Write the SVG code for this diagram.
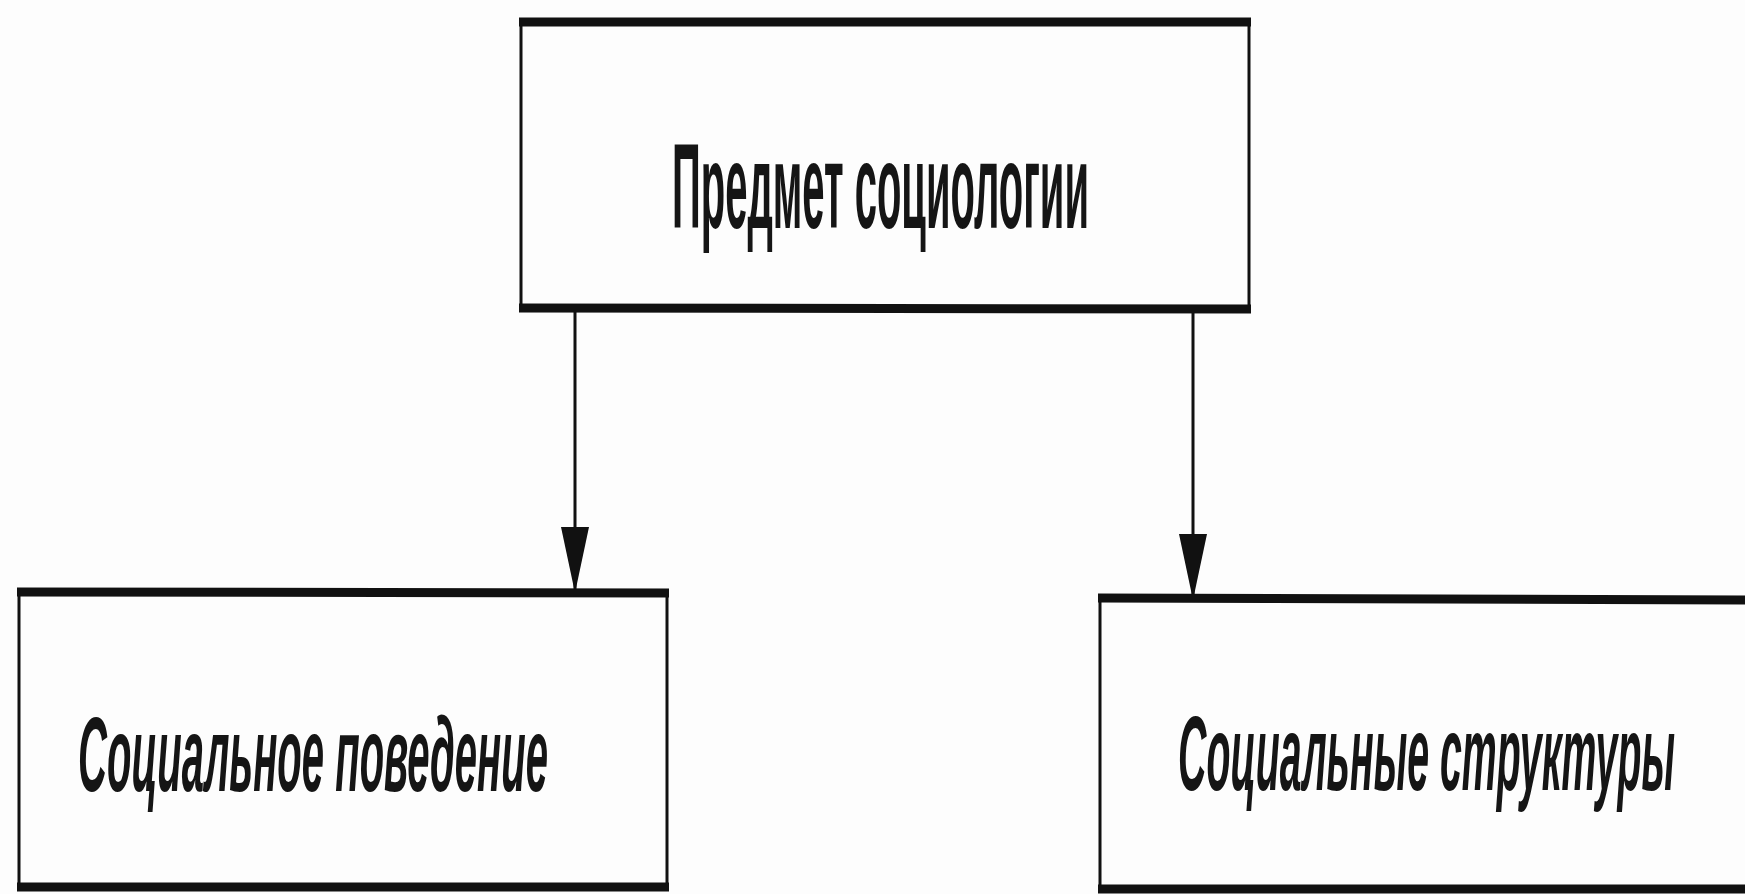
<svg xmlns="http://www.w3.org/2000/svg" width="1745" height="894" viewBox="0 0 1745 894">
  <style>
    .box { fill: #fdfdfd; stroke: #111; stroke-width: 3; }
    .edge { stroke: #111; stroke-width: 9; stroke-linecap: butt; }
    .conn { stroke: #111; stroke-width: 3; fill: none; }
    .title { font-family: "Liberation Sans", Arial, sans-serif; font-weight: 700; fill: #151515; }
    .ital { font-family: "Liberation Sans", Arial, sans-serif; font-weight: 700; font-style: italic; fill: #151515; }
  </style>
  <defs>
    <marker id="arrow" markerUnits="userSpaceOnUse" markerWidth="66" markerHeight="28" viewBox="0 0 66 28" refX="66" refY="14" orient="auto">
      <path d="M0,0 L66,14 L0,28 Z" fill="#111"/>
    </marker>
  </defs>
  <rect width="1745" height="894" fill="#fdfdfd"/>

  <g id="connectors">
    <line class="conn" x1="575" y1="310" x2="575" y2="593" marker-end="url(#arrow)"/>
    <line class="conn" x1="1193" y1="312" x2="1193" y2="600" marker-end="url(#arrow)"/>
  </g>

  <g id="node-top">
    <rect class="box" x="521" y="22" width="728" height="286"/>
    <line class="edge" x1="519" y1="22" x2="1251" y2="22"/>
    <line class="edge" x1="519" y1="308" x2="1251" y2="309"/>
    <text class="title" transform="translate(672,228) scale(1,3)" x="0" y="0" font-size="40" textLength="417" lengthAdjust="spacingAndGlyphs">Предмет социологии</text>
  </g>

  <g id="node-left">
    <rect class="box" x="19" y="592" width="648" height="295"/>
    <line class="edge" x1="17" y1="592" x2="669" y2="593"/>
    <line class="edge" x1="17" y1="887" x2="669" y2="887"/>
    <text class="ital" transform="translate(78,791) scale(1,2.65)" x="0" y="0" font-size="40" textLength="470" lengthAdjust="spacingAndGlyphs">Социальное поведение</text>
  </g>

  <g id="node-right">
    <rect class="box" x="1100" y="598" width="660" height="291"/>
    <line class="edge" x1="1098" y1="598" x2="1745" y2="600"/>
    <line class="edge" x1="1098" y1="889" x2="1745" y2="889"/>
    <text class="ital" transform="translate(1178,790) scale(1,2.65)" x="0" y="0" font-size="40" textLength="497" lengthAdjust="spacingAndGlyphs">Социальные структуры</text>
  </g>
</svg>
